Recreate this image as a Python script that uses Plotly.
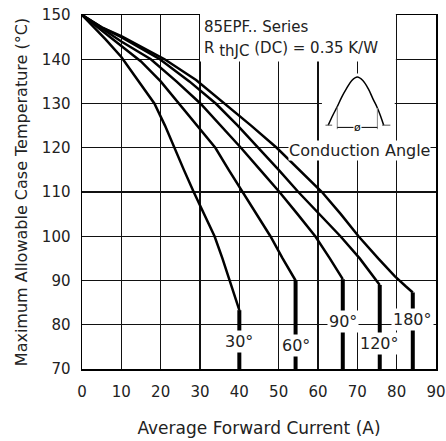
import plotly.graph_objects as go

# ---- axes ----
X_MIN, X_MAX = 0, 90
Y_MIN, Y_MAX = 70, 150
x_ticks = list(range(0, 91, 10))
y_ticks = list(range(70, 151, 10))

# ---- series (Average forward current A -> max case temperature °C) ----
angles = ["30°", "60°", "90°", "120°", "180°"]

i_30 = [0, 3, 6, 10, 14.5, 18.4, 21.1, 23.4, 25.9, 28.4, 31, 33.7, 35.7, 37.5, 39, 40]
t_30 = [150, 147.2, 144.5, 140.5, 135, 130, 125, 120, 115, 110, 105, 100, 95, 90, 86, 83.3]

i_60 = [0, 5, 10, 15, 20, 24.6, 29.3, 33.9, 37.3, 40.9, 44.4, 47.9, 51, 53, 54.3]
t_60 = [150, 146.5, 142.8, 139.5, 135, 130, 125, 120, 115, 110, 105, 100, 95, 92, 90]

i_90 = [0, 5, 10, 17.5, 24, 30.1, 35.3, 40.4, 45.3, 50.2, 54.8, 59.3, 63, 65.2, 66.3]
t_90 = [150, 147, 144, 140, 135, 130, 125, 120, 115, 110, 105, 100, 95, 92, 90.3]

i_120 = [0, 5, 10, 19.8, 27.3, 34, 39.6, 44.9, 50, 55, 60.3, 65.7, 70.6, 73.6, 75.7]
t_120 = [150, 147.2, 145, 140, 135, 130, 125, 120, 115, 110, 105, 100, 95, 91.5, 89]

i_180 = [0, 5, 10, 21, 29, 36.3, 43, 49.5, 55.3, 61, 65.8, 70.3, 75.3, 79.5, 82.3, 84.1]
t_180 = [150, 147.2, 145.2, 140, 135.3, 130, 125, 120, 115, 110, 105, 100, 95, 91, 88.7, 87.3]

currents = [i_30, i_60, i_90, i_120, i_180]
temps = [t_30, t_60, t_90, t_120, t_180]

# curve label anchors (data coords)
label_x = [40, 54.3, 66.3, 75.7, 84.1]
label_y = [76.3, 75.4, 80.7, 75.8, 81.2]

# ---- inset "conduction angle" icon (decoration) ----
hump_x = [62.6, 63.8, 64.9, 66.0, 67.2, 68.6, 70.0, 71.4, 72.8, 74.0, 75.1, 75.9, 76.7]
hump_y = [125.1, 127.4, 129.3, 131.4, 133.3, 135.2, 136.0, 135.2, 133.3, 131.0, 129.0, 127.2, 125.1]

FONT = "DejaVu Sans"
TXT = "#222222"

fig = go.Figure()

for xs, ys in zip(currents, temps):
    fig.add_trace(go.Scatter(x=xs, y=ys, mode="lines",
                             line=dict(color="black", width=2.5),
                             hoverinfo="skip", showlegend=False))
    fig.add_trace(go.Scatter(x=[xs[-1], xs[-1]], y=[ys[-1], Y_MIN], mode="lines",
                             line=dict(color="black", width=4),
                             hoverinfo="skip", showlegend=False))

fig.add_trace(go.Scatter(x=hump_x, y=hump_y, mode="lines",
                         line=dict(color="black", width=1.5, shape="spline"),
                         hoverinfo="skip", showlegend=False))

shapes = [
    # white box behind the series text (covers top border)
    dict(type="rect", xref="x", yref="paper", x0=30, x1=79.8,
         y0=(139.5 - Y_MIN) / (Y_MAX - Y_MIN), y1=1.02,
         fillcolor="white", line=dict(width=0), layer="above"),
    # white box behind the icon (above grid, below traces)
    dict(type="rect", xref="x", yref="y", x0=61.0, x1=79.5, y0=121.3, y1=136.8,
         fillcolor="white", line=dict(width=0), layer="between"),
    # icon baseline dashes
    dict(type="line", xref="x", yref="y", x0=61.9, x1=63.6, y0=125.1, y1=125.1,
         line=dict(color="#555", width=1), layer="above"),
    dict(type="line", xref="x", yref="y", x0=76.3, x1=78.4, y0=125.1, y1=125.1,
         line=dict(color="#555", width=1), layer="above"),
    # conduction limits
    dict(type="line", xref="x", yref="y", x0=64.9, x1=64.9, y0=124.2, y1=129.3,
         line=dict(color="#888", width=1), layer="above"),
    dict(type="line", xref="x", yref="y", x0=75.1, x1=75.1, y0=124.2, y1=129.0,
         line=dict(color="#888", width=1), layer="above"),
    # angle arrow line
    dict(type="line", xref="x", yref="y", x0=64.9, x1=75.1, y0=124.6, y1=124.6,
         line=dict(color="black", width=1), layer="above"),
]

annotations = [
    dict(x=30.5, y=147.3, xref="x", yref="y", xanchor="left", yanchor="middle",
         text="85EPF.. Series", showarrow=False, font=dict(family=FONT, size=15, color=TXT)),
    dict(x=30.5, y=142.1, xref="x", yref="y", xanchor="left", yanchor="middle",
         text="R <sub><span style='font-size:15px'>thJC</span></sub> (DC) = 0.35 K/W",
         showarrow=False, font=dict(family=FONT, size=15, color=TXT)),
    dict(x=70.6, y=119.3, xref="x", yref="y", xanchor="center", yanchor="middle",
         text="Conduction Angle", showarrow=False, bgcolor="white", borderpad=0,
         font=dict(family=FONT, size=16, color=TXT)),
    dict(x=70.0, y=124.6, xref="x", yref="y", xanchor="center", yanchor="middle",
         text="ø", showarrow=False, bgcolor="white", borderpad=0,
         font=dict(family=FONT, size=11, color="black")),
]
for lx, ly, lab in zip(label_x, label_y, angles):
    annotations.append(dict(x=lx, y=ly, xref="x", yref="y", xanchor="center", yanchor="middle",
                            text=lab, showarrow=False, bgcolor="white", borderpad=1,
                            font=dict(family=FONT, size=16, color=TXT)))

axis_common = dict(showgrid=True, gridcolor="#111111", gridwidth=1.4,
                   showline=True, linecolor="black", linewidth=1.5, mirror=True,
                   zeroline=False, ticks="", automargin=False,
                   tickfont=dict(family=FONT, size=15, color=TXT))

fig.update_layout(
    width=446, height=441,
    margin=dict(l=82, r=10, t=15, b=72),
    paper_bgcolor="white", plot_bgcolor="white",
    xaxis=dict(range=[X_MIN, X_MAX], tickvals=x_ticks, ticklabelstandoff=8,
               title=dict(text="Average Forward Current (A)", standoff=22,
                          font=dict(family=FONT, size=17, color=TXT)),
               **axis_common),
    yaxis=dict(range=[Y_MIN, Y_MAX], tickvals=y_ticks, ticklabelstandoff=7,
               title=dict(text="Maximum Allowable Case Temperature (°C)", standoff=10,
                          font=dict(family=FONT, size=16, color=TXT)),
               **axis_common),
    shapes=shapes,
    annotations=annotations,
)

fig.write_html("out.html", config={"displayModeBar": False, "staticPlot": True},
               post_script="document.body.style.margin='0';document.body.style.overflow='hidden';")
